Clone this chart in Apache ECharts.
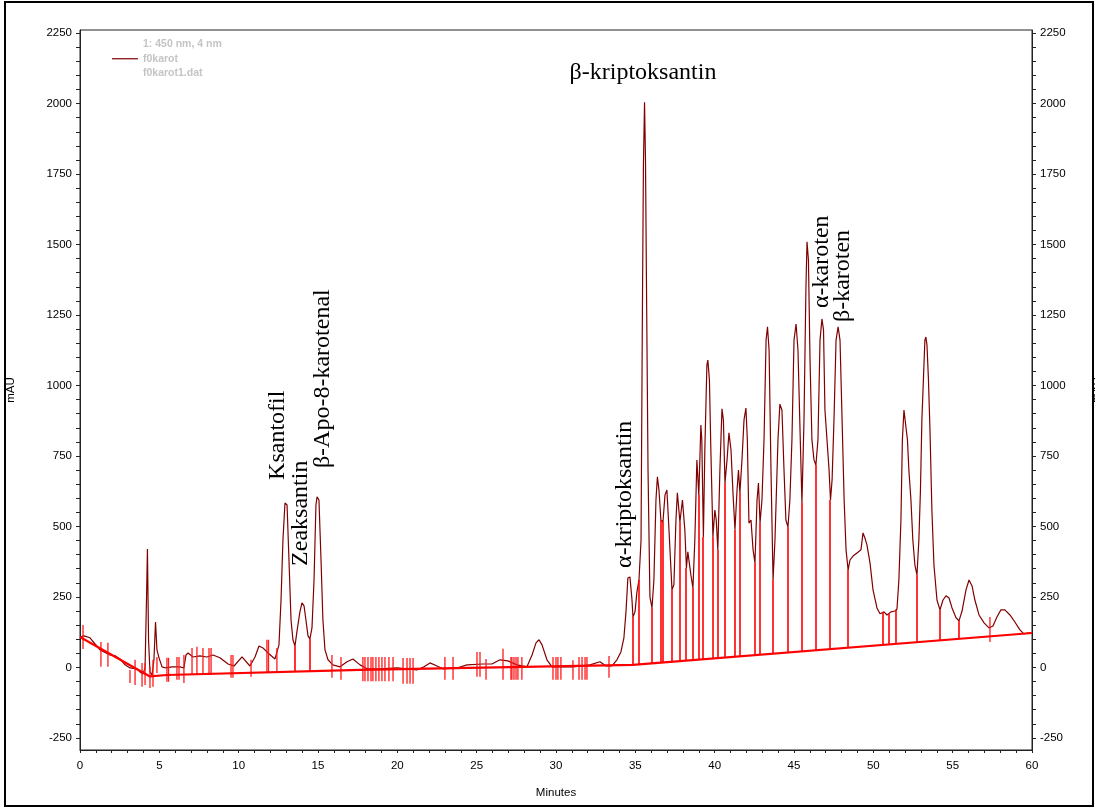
<!DOCTYPE html>
<html>
<head>
<meta charset="utf-8">
<script src="https://cdn.jsdelivr.net/npm/echarts@6/dist/echarts.min.js"></script>
<style>
  html, body { margin: 0; padding: 0; background: #fff; }
  #chart { position: absolute; left: 0; top: 0; width: 1095px; height: 807px; }
  #frame { position: absolute; left: 4px; top: 1px; width: 1086px; height: 802px; border: 2px solid #000; pointer-events: none; }
</style>
</head>
<body>
<div id="chart"></div>
<div id="frame"></div>
<script>
// Detector signal at 450 nm: [minutes, mAU]
const trace = [
  [0.00,108],[0.25,112],[0.63,105],[0.95,83],[1.26,62],[1.64,51],[1.89,44],[2.21,41],[2.52,30],[2.84,9],
  [3.15,-2],[3.59,-5],[3.78,-16],[3.97,-23],[4.10,-2],[4.19,239],[4.25,420],[4.32,98],[4.41,-16],[4.54,-27],
  [4.66,27],[4.76,161],[4.85,62],[4.98,34],[5.17,2],[5.42,-2],[5.80,2],[6.30,2],[6.55,-2],[6.68,44],
  [6.81,51],[7.12,37],[7.56,41],[8.00,37],[8.38,44],[8.82,34],[9.33,12],[9.71,5],[10.21,37],[10.71,5],
  [11.03,37],[11.28,76],[11.53,69],[11.85,51],[12.29,30],[12.54,80],[12.67,239],[12.79,452],[12.92,583],[13.05,576],
  [13.17,381],[13.30,168],[13.42,98],[13.55,76],[13.67,126],[13.86,197],[13.99,229],[14.12,218],[14.24,168],[14.37,112],
  [14.49,101],[14.62,140],[14.75,310],[14.87,576],[14.94,605],[15.06,594],[15.19,381],[15.31,168],[15.44,62],[15.63,27],
  [15.94,9],[16.39,2],[16.83,20],[17.20,30],[17.65,9],[18.09,-5],[18.91,-5],[19.98,-2],[21.24,-9],[21.68,2],
  [22.06,16],[22.50,5],[22.88,-5],[23.76,-2],[24.39,9],[25.40,12],[25.96,12],[26.47,27],[26.97,23],[27.54,9],
  [28.17,2],[28.49,44],[28.74,87],[28.93,98],[29.12,80],[29.43,27],[29.75,2],[31.07,2],[32.14,9],[32.77,20],
  [33.15,5],[33.53,5],[33.84,27],[34.09,55],[34.28,105],[34.41,197],[34.53,317],[34.66,321],[34.79,239],[34.85,179],
  [34.98,197],[35.10,268],[35.23,310],[35.36,452],[35.45,1303],[35.51,1782],[35.58,2005],[35.64,1800],[35.70,1374],[35.80,700],
  [35.92,250],[36.05,211],[36.17,310],[36.30,594],[36.39,676],[36.49,629],[36.61,523],[36.74,516],[36.87,612],[36.99,629],
  [37.12,488],[37.31,275],[37.43,293],[37.56,523],[37.65,619],[37.81,516],[37.97,594],[38.12,488],[38.22,353],[38.31,410],
  [38.41,417],[38.50,328],[38.63,282],[38.75,452],[38.88,736],[39.00,612],[39.13,860],[39.19,807],[39.29,463],[39.38,771],
  [39.51,1073],[39.57,1090],[39.67,1020],[39.76,771],[39.89,463],[40.01,558],[40.10,523],[40.20,417],[40.33,700],[40.46,917],
  [40.55,878],[40.65,654],[40.78,736],[40.90,832],[41.03,771],[41.16,612],[41.28,488],[41.41,629],[41.50,700],[41.59,619],
  [41.72,736],[41.85,878],[41.97,920],[42.06,807],[42.16,512],[42.29,523],[42.42,417],[42.54,371],[42.67,594],[42.76,654],
  [42.86,512],[42.98,594],[43.11,807],[43.24,1161],[43.33,1208],[43.43,1126],[43.55,700],[43.68,310],[43.80,452],[43.99,807],
  [44.11,934],[44.24,913],[44.37,700],[44.49,523],[44.62,498],[44.74,594],[44.87,807],[45.00,1161],[45.13,1218],[45.25,1126],
  [45.38,842],[45.50,583],[45.63,878],[45.75,1339],[45.82,1510],[45.91,1445],[46.01,1090],[46.13,807],[46.26,736],[46.38,718],
  [46.51,807],[46.64,1161],[46.76,1236],[46.86,1197],[46.95,913],[47.08,807],[47.21,700],[47.30,594],[47.40,665],[47.52,878],
  [47.65,1161],[47.78,1208],[47.90,1161],[48.03,878],[48.16,594],[48.28,417],[48.41,346],[48.53,381],[48.72,395],[48.97,406],
  [49.22,417],[49.35,477],[49.47,459],[49.60,434],[49.79,371],[49.98,275],[50.23,211],[50.42,190],[50.67,197],[50.86,186],
  [51.11,197],[51.36,200],[51.49,207],[51.61,310],[51.74,523],[51.83,807],[51.93,913],[52.05,913],[52.15,807],[52.24,700],
  [52.37,594],[52.49,452],[52.62,363],[52.75,328],[52.87,452],[52.97,629],[53.06,878],[53.16,1027],[53.25,1161],[53.31,1172],
  [53.38,1144],[53.47,1027],[53.57,842],[53.69,559],[53.82,363],[54.01,239],[54.20,204],[54.39,239],[54.58,254],[54.77,246],
  [54.96,211],[55.21,176],[55.40,165],[55.59,200],[55.84,275],[56.03,310],[56.22,289],[56.40,239],[56.66,186],[56.98,158],
  [57.29,140],[57.54,147],[57.79,179],[58.04,204],[58.29,204],[58.61,186],[58.92,161],[59.24,133],[59.49,119],[59.74,122],
  [60.00,122]
];

// Integration baseline: [minutes, mAU]
const baseline = [[0,108],[4.41,-32],[5.48,-27],[17.65,-9],[34.85,9],[60,122]];

// Peak-boundary drop lines (minutes)
const dropTimes = [
  13.55, 14.49, 34.85, 35.23, 36.05, 36.61, 36.74, 37.31, 37.81, 38.22, 38.63, 39.00, 39.29,
  39.89, 40.20, 40.65, 41.28, 41.59, 42.54, 42.86, 43.68, 44.62, 45.50, 46.38, 47.30, 48.41,
  50.61, 50.98, 51.42, 52.75, 54.20, 55.40, 59.62
];

// Integration event markers: [minutes, low mAU, high mAU]
const eventMarks = [
  [0.19,65,150],[1.32,2,90],[1.76,2,87],[3.15,-55,-9],[3.47,-62,27],[3.91,-69,16],[4.10,-62,16],
  [4.41,-73,2],[4.60,-69,27],[4.85,-20,37],[5.48,-51,34],[5.58,-51,34],[6.11,-44,37],[6.24,-44,37],
  [6.55,-55,44],[7.06,-27,69],[7.37,-27,73],[7.75,-27,69],[8.13,-27,69],[8.26,-27,69],[9.52,-37,44],
  [9.64,-37,44],[10.78,-33,27],[11.78,-20,98],[11.88,-20,98],[12.41,-16,69],[15.88,-37,44],[16.45,-44,37],
  [17.83,-49,37],[17.96,-49,37],[18.15,-49,37],[18.34,-49,37],[18.46,-49,37],[18.65,-49,37],[18.84,-49,37],
  [19.03,-49,37],[19.22,-49,37],[19.47,-49,37],[19.73,-49,37],[20.36,-58,33],[20.61,-58,33],[20.80,-58,33],
  [20.99,-58,33],[23.00,-44,37],[23.51,-44,37],[25.02,-33,55],[25.21,-33,55],[25.59,-44,30],[26.66,-44,66],
  [27.16,-44,37],[27.22,-44,37],[27.35,-44,37],[27.48,-44,37],[27.60,-44,37],[27.85,-44,37],[29.81,-44,37],
  [30.00,-44,37],[30.12,-44,37],[30.31,-44,37],[31.07,-44,25],[31.45,-44,37],[31.64,-44,37],[31.83,-44,37],
  [31.95,-44,37],[33.34,-37,40],[57.35,90,179]
];

const xTickLabels = [0, 5, 10, 15, 20, 25, 30, 35, 40, 45, 50, 55, 60];
const yTickLabels = [-250, 0, 250, 500, 750, 1000, 1250, 1500, 1750, 2000, 2250];

// Peak names with the data point their text starts from
const annotations = [
  { text: 'β-kriptoksantin', t: 35.48, v: 2108, vertical: false },
  { text: 'Ksantofil', t: 12.48, v: 665, vertical: true },
  { text: 'Zeaksantin', t: 13.93, v: 360, vertical: true },
  { text: 'β-Apo-8-karotenal', t: 15.31, v: 707, vertical: true },
  { text: 'α-kriptoksantin', t: 34.35, v: 353, vertical: true },
  { text: 'α-karoten', t: 46.76, v: 1275, vertical: true },
  { text: 'β-karoten', t: 48.08, v: 1225, vertical: true }
];

function interp(series, t) {
  for (let i = 1; i < series.length; i++) {
    if (t <= series[i][0]) {
      const a = series[i - 1], b = series[i];
      const f = (t - a[0]) / (b[0] - a[0]);
      return a[1] + f * (b[1] - a[1]);
    }
  }
  return series[series.length - 1][1];
}

const dropLines = dropTimes.map(t => [t, interp(baseline, t), interp(trace, t)]);

// Minor y ticks every 50 mAU between labelled values
const yTickMarks = [];
for (let v = yTickLabels[0]; v <= yTickLabels[yTickLabels.length - 1]; v += 50) yTickMarks.push(v);

const AXIS_COLOR = '#222';
const SANS = 'Liberation Sans, Arial, sans-serif';
const SERIF = 'Liberation Serif, Times New Roman, serif';

function yAxisDef(position, withName) {
  return {
    type: 'value',
    position: position,
    min: -293,
    max: 2261,
    name: withName ? 'mAU' : '',
    nameLocation: 'middle',
    nameRotate: 90,
    nameGap: 63,
    nameTextStyle: { fontSize: 11.5, color: '#000', fontFamily: SANS },
    axisLine: { show: true, onZero: false, lineStyle: { color: AXIS_COLOR, width: 1 } },
    axisTick: { show: true, customValues: yTickMarks, length: 4, lineStyle: { color: AXIS_COLOR } },
    axisLabel: {
      customValues: yTickLabels,
      formatter: v => String(v),
      fontSize: 11.5, color: '#000', margin: 8, fontFamily: SANS
    },
    splitLine: { show: false }
  };
}

function vLine(color, width, snap) {
  return function (params, api) {
    const p1 = api.coord([api.value(0), api.value(1)]);
    const p2 = api.coord([api.value(0), api.value(2)]);
    const x = snap ? Math.round(p1[0]) : p1[0];
    return {
      type: 'line',
      shape: { x1: x, y1: p1[1], x2: x, y2: p2[1] },
      style: { stroke: color, lineWidth: width }
    };
  };
}

const chart = echarts.init(document.getElementById('chart'), null, { renderer: 'canvas' });

chart.setOption({
  animation: false,
  backgroundColor: '#fff',
  grid: {
    left: 80, right: 63, top: 30, bottom: 57,
    show: true, borderColor: AXIS_COLOR, borderWidth: 1,
    outerBoundsMode: 'none'
  },
  legend: {
    left: 107, top: 32,
    data: ['f0karot'],
    icon: 'rect',
    itemWidth: 26, itemHeight: 1.2,
    itemStyle: { color: '#800000' },
    formatter: () => '1: 450 nm, 4 nm\nf0karot\nf0karot1.dat',
    textStyle: { color: '#c4c4c4', fontSize: 10.5, fontWeight: 'bold', fontFamily: SANS, lineHeight: 14.5 }
  },
  xAxis: {
    type: 'value',
    min: xTickLabels[0],
    max: xTickLabels[xTickLabels.length - 1],
    interval: 5,
    name: 'Minutes',
    nameLocation: 'middle',
    nameGap: 37,
    nameTextStyle: { fontSize: 11.5, color: '#000', fontFamily: SANS },
    axisLine: { onZero: false, lineStyle: { color: AXIS_COLOR, width: 1 } },
    axisTick: { length: 3, lineStyle: { color: AXIS_COLOR } },
    minorTick: { show: true, splitNumber: 5, length: 3, lineStyle: { color: AXIS_COLOR } },
    axisLabel: { fontSize: 11.5, color: '#000', margin: 10, fontFamily: SANS },
    splitLine: { show: false }
  },
  yAxis: [yAxisDef('left', true), yAxisDef('right', false)],
  series: [
    {
      name: 'f0karot',
      type: 'line',
      data: trace,
      symbol: 'none',
      lineStyle: { color: '#800000', width: 1.2 },
      itemStyle: { color: '#800000' },
      z: 3
    },
    {
      name: 'baseline',
      type: 'line',
      data: baseline,
      symbol: 'none',
      lineStyle: { color: '#ff0000', width: 2.2 },
      z: 4
    },
    {
      name: 'drops',
      type: 'custom',
      data: dropLines,
      encode: { x: 0, y: [1, 2] },
      renderItem: vLine('#ff0000', 1.6, true),
      z: 4
    },
    {
      name: 'events',
      type: 'custom',
      data: eventMarks,
      encode: { x: 0, y: [1, 2] },
      renderItem: vLine('#ff1a1a', 1.3, false),
      z: 4
    }
  ]
});

// Peak names, placed at their data anchors
const graphics = annotations.map(a => {
  const p = chart.convertToPixel({ xAxisIndex: 0, yAxisIndex: 0 }, [a.t, a.v]);
  return {
    type: 'text',
    x: p[0], y: p[1],
    rotation: a.vertical ? Math.PI / 2 : 0,
    style: {
      text: a.text,
      fill: '#000',
      font: '24px ' + SERIF,
      textAlign: a.vertical ? 'left' : 'center',
      textVerticalAlign: 'middle'
    },
    z: 10
  };
});

// Right-hand axis title, running off the page edge
graphics.push({
  type: 'text',
  x: 1097, y: 390,
  rotation: Math.PI / 2,
  style: { text: 'mAU', fill: '#000', font: '11.5px ' + SANS, textAlign: 'center', textVerticalAlign: 'middle' },
  z: 10
});

chart.setOption({ graphic: graphics });
</script>
</body>
</html>
